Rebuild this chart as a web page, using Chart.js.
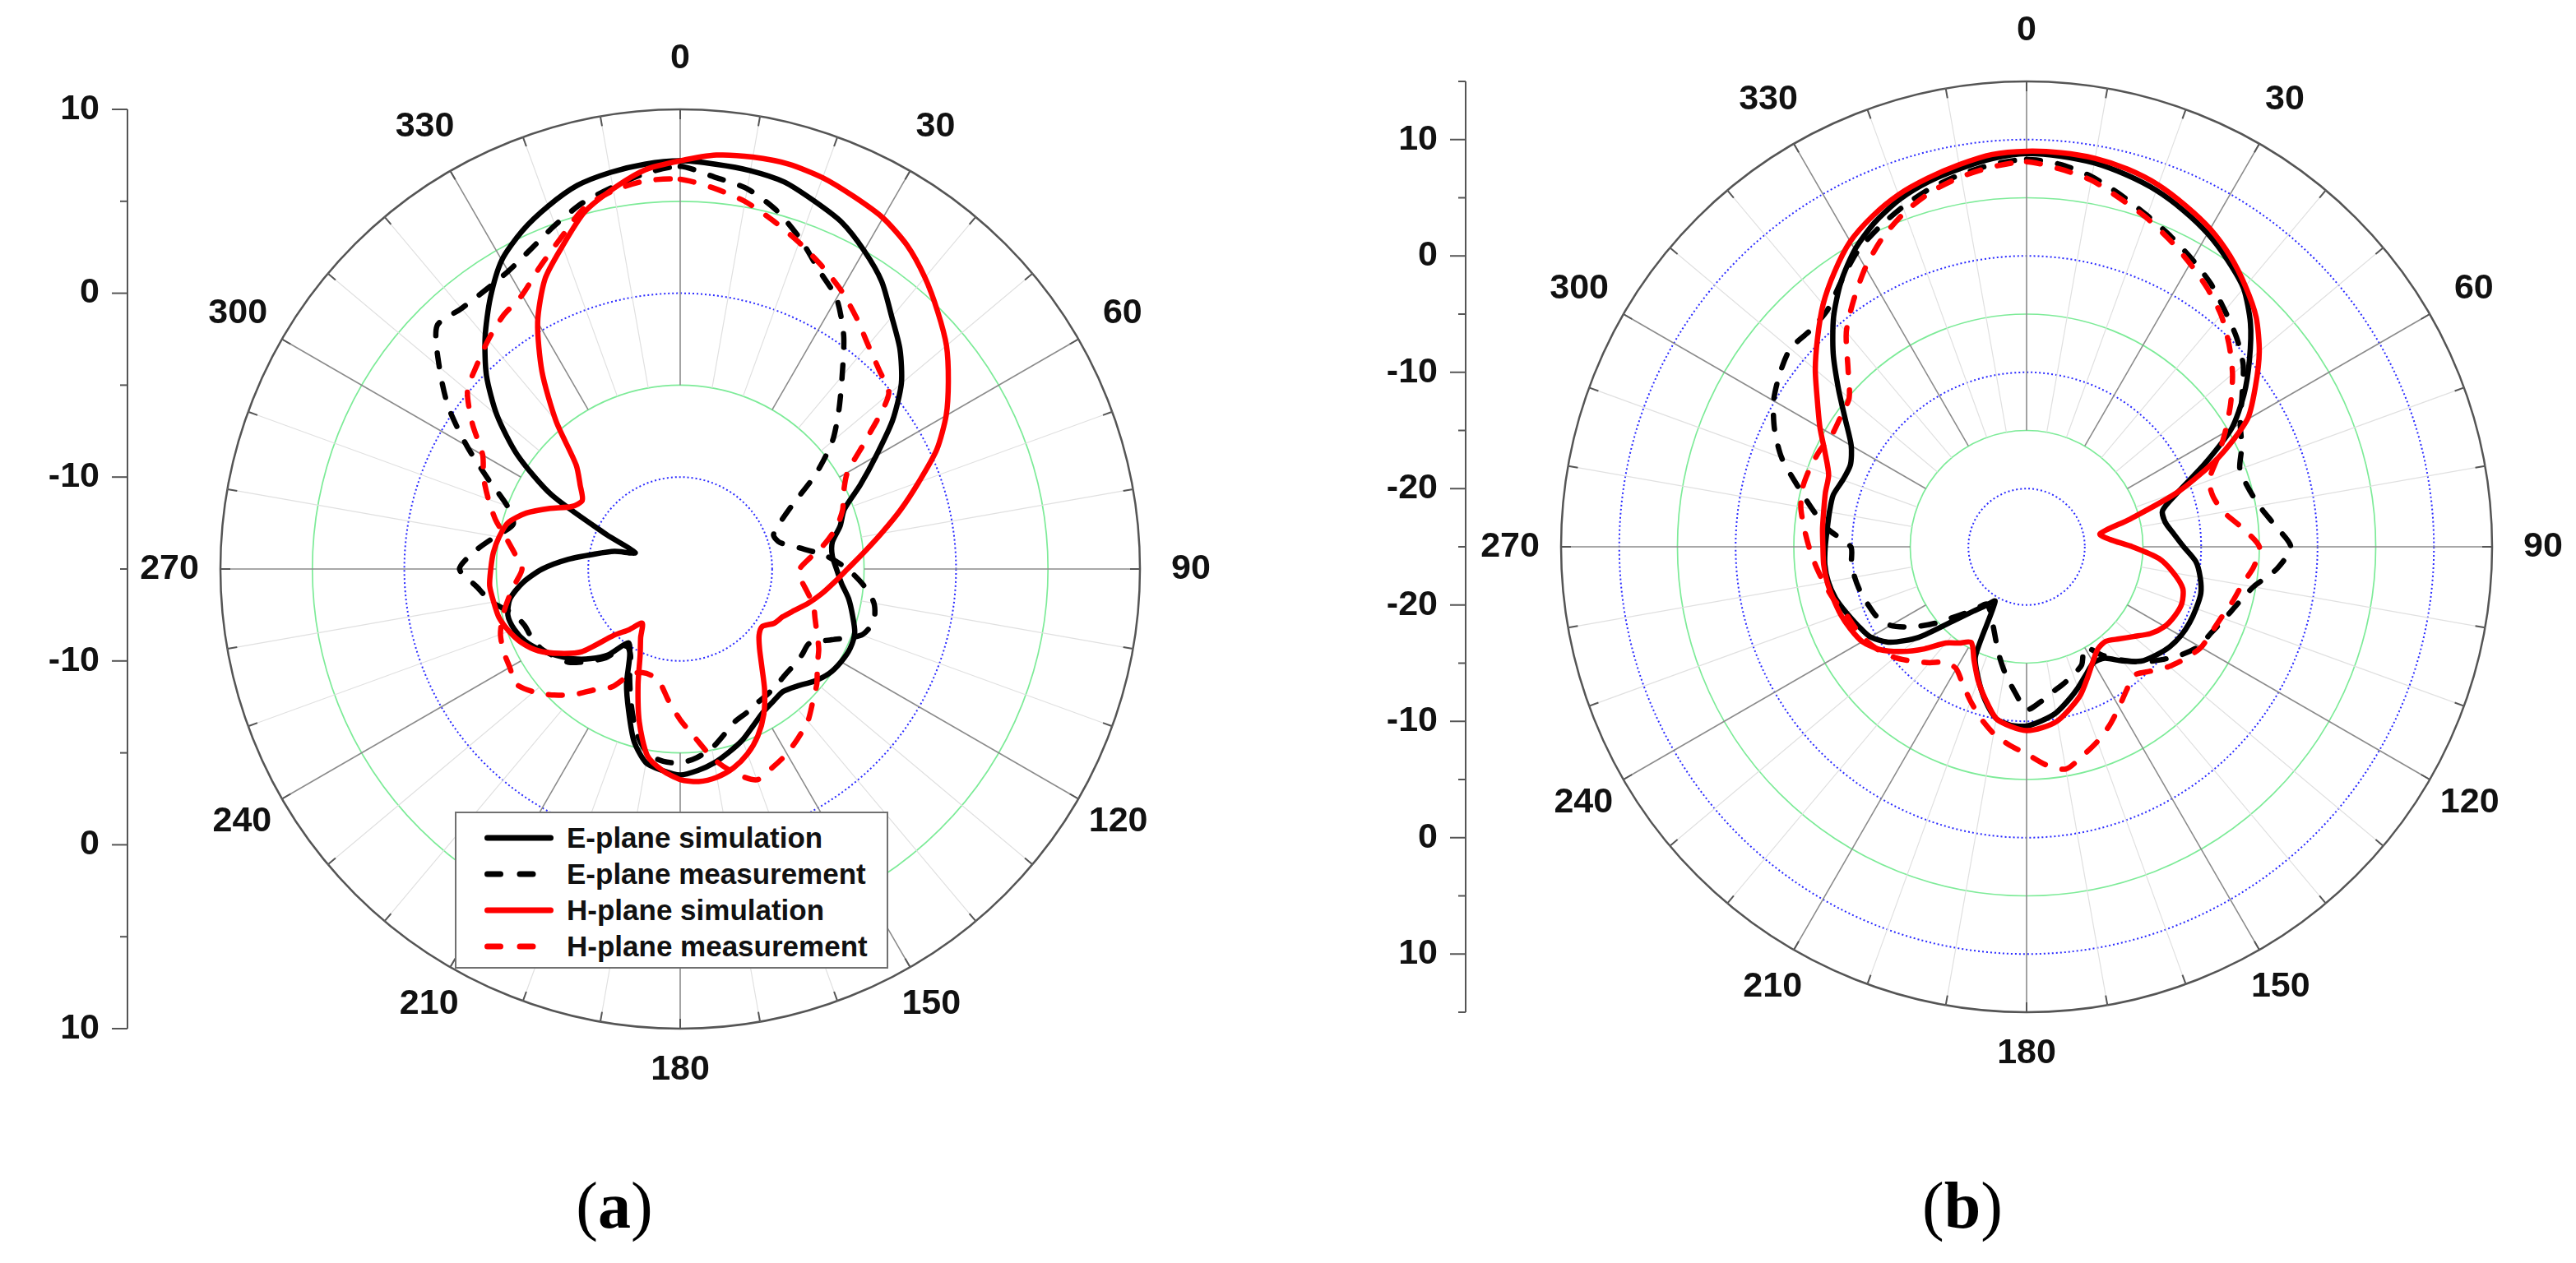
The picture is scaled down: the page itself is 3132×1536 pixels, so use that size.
<!DOCTYPE html>
<html>
<head>
<meta charset="utf-8">
<title>E-plane / H-plane radiation patterns</title>
<script src="https://cdn.jsdelivr.net/npm/chart.js@4.4.1/dist/chart.umd.min.js"></script>
<style>
  html, body { margin: 0; padding: 0; background: #fff; }
  #page { position: relative; width: 3132px; height: 1536px; overflow: hidden; background: #fff; }
  canvas { position: absolute; top: 0; }
  #chartA { left: 0; }
  #chartB { left: 1566px; }
  .legend { position: absolute; left: 553px; top: 987px; width: 523px; height: 187px;
            border: 2px solid #707070; background: #fff; color: #111;
            font: bold 35px "Liberation Sans", Arial, sans-serif; }
  .legend .row { position: absolute; left: 0; width: 100%; height: 44px; }
  .legend svg { position: absolute; left: 34px; top: 15px; }
  .legend span { position: absolute; left: 134px; top: 0; line-height: 44px; white-space: nowrap; }
  .caption { position: absolute; top: 1426px; width: 200px; text-align: center;
             font: 80px/80px "Liberation Serif", "Times New Roman", serif; color: #000; }
</style>
</head>
<body>
<div id="page">
  <canvas id="chartA" width="1566" height="1536"></canvas>
  <canvas id="chartB" width="1566" height="1536"></canvas>
  <div class="legend" id="legendA"></div>
  <div class="caption" style="left:647px">(<b>a</b>)</div>
  <div class="caption" style="left:2286px">(<b>b</b>)</div>
</div>
<script>
// angle categories, degrees (5 degree steps, clockwise from top)
const angles = [
  0, 5, 10, 15, 20, 25, 30, 35, 40, 45, 50, 55, 60, 65, 70, 75, 80, 85,
  90, 95, 100, 105, 110, 115, 120, 125, 130, 135, 140, 145, 150, 155, 160, 165, 170, 175,
  180, 185, 190, 195, 200, 205, 210, 215, 220, 225, 230, 235, 240, 245, 250, 255, 260, 265,
  270, 275, 280, 285, 290, 295, 300, 305, 310, 315, 320, 325, 330, 335, 340, 345, 350, 355
];
const angleTicks = [0, 30, 60, 90, 120, 150, 180, 210, 240, 270, 300, 330];

const seriesNames = ['E-plane simulation', 'E-plane measurement', 'H-plane simulation', 'H-plane measurement'];
const seriesColors = ['#000000', '#000000', '#ff0000', '#ff0000'];
const seriesDashed = [false, true, false, true];

// (a) gain in dB
const aEsim = [
  7.2, 7.1, 7.0, 6.8, 6.3, 5.8, 5.0, 4.1, 2.9, 1.9,
  0.7, -0.9, -2.7, -4.2, -5.5, -6.0, -6.6, -6.7, -6.5, -6.2,
  -5.7, -5.3, -4.9, -4.8, -4.9, -5.1, -5.5, -6.0, -6.3, -6.2,
  -6.0, -5.6, -5.1, -4.7, -4.3, -4.0, -3.8, -4.0, -4.3, -5.3,
  -6.8, -8.1, -9.5, -10.1, -8.9, -8.1, -7.4, -6.8, -6.2, -5.7,
  -5.4, -5.3, -5.6, -6.4, -7.5, -8.9, -10.3, -11.3, -12.4, -10.6,
  -6.9, -4.2, -2.0, -0.1, 1.5, 3.0, 4.4, 5.3, 6.0, 6.6,
  6.9, 7.1
];
const aEmeas = [
  6.9, 6.4, 6.0, 5.2, 4.1, 2.9, 2.0, 0.5, -1.3, -2.8,
  -4.2, -6.0, -7.9, -9.0, -9.6, -9.4, -8.4, -7.0, -5.9, -5.0,
  -4.3, -4.1, -4.5, -5.9, -6.9, -6.9, -6.9, -6.9, -6.8, -6.7,
  -6.6, -6.4, -6.2, -5.7, -5.1, -4.7, -4.45, -4.5, -4.8, -5.8,
  -7.2, -8.5, -9.6, -9.9, -8.7, -7.9, -7.1, -6.7, -6.3, -6.1,
  -6.0, -5.6, -4.6, -3.9, -3.0, -3.8, -4.8, -5.6, -5.0, -3.5,
  -1.6, 0.4, 2.1, 3.7, 3.5, 3.5, 3.7, 4.2, 4.9, 5.6,
  6.1, 6.6
];
const aHsim = [
  7.2, 7.6, 7.75, 7.8, 7.65, 7.35, 7.05, 6.5, 5.7, 4.8,
  3.9, 2.8, 1.7, 0.4, -1.2, -2.6, -3.9, -5.0, -5.9, -6.6,
  -7.2, -7.8, -8.4, -8.85, -9.1, -9.55, -9.4, -8.9, -8.1, -7.0,
  -5.9, -5.0, -4.3, -3.8, -3.5, -3.4, -3.55, -4.0, -4.7, -6.4,
  -8.3, -9.85, -10.7, -11.4, -10.7, -9.9, -8.0, -7.0, -6.1, -5.5,
  -5.1, -4.8, -4.7, -4.6, -4.7, -4.8, -5.0, -5.3, -6.1, -7.2,
  -8.2, -8.5, -7.9, -7.0, -4.5, -1.9, 0.5, 2.4, 3.7, 5.1,
  6.0, 6.8
];
const aHmeas = [
  6.2, 5.8, 5.3, 4.6, 3.9, 3.2, 2.5, 1.7, 0.9, 0.3,
  -0.2, -2.6, -4.5, -5.2, -5.6, -6.2, -7.0, -7.9, -8.5, -8.4,
  -8.0, -7.5, -7.2, -6.8, -6.3, -5.9, -5.3, -4.8, -4.2, -3.8,
  -3.4, -3.1, -2.8, -3.5, -4.5, -5.8, -6.8, -7.8, -8.7, -9.0,
  -9.0, -8.7, -7.6, -7.0, -6.1, -5.3, -4.6, -4.1, -4.3, -4.4,
  -4.6, -5.0, -5.5, -6.0, -6.4, -6.0, -5.4, -4.6, -3.9, -3.2,
  -2.6, -1.2, 0.1, 0.65, 1.25, 1.8, 2.2, 3.1, 4.1, 5.3,
  5.9, 6.2
];

// (b) gain in dB
const bEsim = [
  8.8, 8.7, 8.5, 8.1, 7.6, 6.9, 6.1, 5.1, 4.0, 2.2,
  0.0, -2.2, -4.65, -8.1, -11.1, -12.9, -12.9, -12.3, -11.5, -10.4,
  -9.85, -9.5, -9.5, -9.55, -9.7, -10.0, -10.5, -11.1, -12.2, -13.3,
  -13.5, -12.9, -12.1, -11.3, -10.5, -10.0, -9.6, -9.6, -10.0, -11.3,
  -12.9, -14.6, -19.6, -18.8, -17.7, -15.9, -12.9, -10.7, -9.5, -9.0,
  -8.5, -8.0, -7.7, -7.6, -7.7, -7.8, -7.8, -7.8, -8.2, -8.3,
  -7.6, -6.0, -3.9, -1.5, 0.8, 2.8, 4.5, 5.8, 6.8, 7.5,
  8.0, 8.5
];
const bEmeas = [
  8.3, 8.0, 7.3, 6.3, 5.3, 4.4, 3.5, 2.6, 1.5, 0.5,
  -0.7, -2.4, -3.8, -4.6, -5.5, -5.3, -4.7, -3.6, -2.3, -3.4,
  -5.2, -6.2, -6.9, -7.5, -7.9, -8.8, -9.9, -11.0, -12.3, -13.6,
  -15.0, -13.8, -13.3, -12.8, -12.3, -11.6, -11.0, -12.6, -14.1, -15.6,
  -17.0, -18.0, -18.7, -19.0, -17.9, -16.6, -14.8, -13.0, -11.5, -10.8,
  -10.5, -10.2, -10.0, -9.9, -9.9, -7.9, -6.3, -4.6, -2.6, -1.1,
  0.1, 0.9, 1.5, 1.3, 1.6, 2.8, 4.2, 5.2, 6.1, 6.9,
  7.5, 8.0
];
const bHsim = [
  9.0, 9.0, 8.9, 8.6, 8.1, 7.35, 6.55, 5.5, 4.25, 2.9,
  1.1, -1.0, -3.1, -6.8, -11.1, -15.8, -18.6, -17.8, -15.9, -13.6,
  -12.2, -11.1, -10.8, -10.95, -11.3, -12.0, -13.0, -13.8, -14.4, -14.3,
  -13.6, -12.6, -11.45, -10.6, -9.8, -9.4, -9.2, -9.5, -10.0, -11.4,
  -12.8, -14.3, -15.5, -14.9, -14.2, -12.6, -11.0, -9.6, -8.7, -8.3,
  -8.0, -7.8, -7.6, -7.5, -7.5, -7.4, -7.3, -7.1, -6.9, -5.9,
  -4.5, -3.05, -1.3, 0.4, 2.2, 3.8, 5.3, 6.35, 7.2, 7.8,
  8.35, 8.85
];
const bHmeas = [
  8.1, 7.6, 7.0, 6.0, 5.1, 4.1, 3.1, 2.1, 1.0, -0.4,
  -1.9, -3.6, -5.3, -6.9, -8.3, -8.4, -7.8, -6.4, -5.0, -5.4,
  -6.2, -6.7, -7.2, -7.5, -7.7, -8.3, -9.0, -9.9, -10.6, -10.0,
  -9.1, -8.1, -7.2, -6.4, -5.6, -6.2, -7.2, -7.9, -8.7, -9.75,
  -10.9, -12.0, -12.9, -12.9, -12.0, -11.1, -10.2, -9.5, -9.0, -8.7,
  -8.4, -7.8, -7.3, -6.8, -6.3, -5.8, -5.3, -5.1, -5.2, -5.4,
  -5.7, -5.5, -5.1, -3.3, -0.9, 0.9, 2.7, 4.3, 5.6, 6.6,
  7.3, 7.8
];

function makeDatasets(values) {
  return values.map((v, i) => ({
    label: seriesNames[i],
    data: v,
    borderColor: seriesColors[i],
    borderWidth: 6.5,
    borderDash: seriesDashed[i] ? [17, 21] : [],
    borderCapStyle: seriesDashed[i] ? 'round' : 'butt',
    borderJoinStyle: 'round',
    fill: false,
    pointRadius: 0,
    pointHoverRadius: 0,
    tension: 0.25,
    order: 4 - i
  }));
}

// put the polar centre in the middle of the chart area, radius = half its size
function centerScale(scale) {
  const a = scale.chart.chartArea;
  scale.xCenter = (a.left + a.right) / 2;
  scale.yCenter = (a.top + a.bottom) / 2;
  scale.drawingArea = Math.min(a.right - a.left, a.bottom - a.top) / 2;
}

function radialScale(min, max, lineStart) {
  return {
    min: min,
    max: max,
    ticks: { display: false, stepSize: 5 },
    pointLabels: { display: false },
    grid: {
      circular: true,
      color: (c) => {
        if (!c.tick) return '#888';
        const v = c.tick.value;
        if (v === c.scale.min) return 'rgba(0,0,0,0)';
        if (v === c.scale.max) return '#555';
        return v % 10 === 0 ? '#2b2bff' : '#7deb98';
      },
      lineWidth: (c) => {
        if (!c.tick) return 1;
        if (c.tick.value === c.scale.max) return 2.5;
        return c.tick.value % 10 === 0 ? 2 : 1.7;
      }
    },
    border: {
      dash: (c) => (c.tick && c.tick.value % 10 === 0 && c.tick.value !== c.scale.max ? [2, 3] : [])
    },
    angleLines: {
      color: (c) => (c.index % 6 === 0 ? '#8c8c8c' : '#e0e0e0'),
      lineWidth: (c) => (c.index % 2 !== 0 ? 0 : (c.index % 6 === 0 ? 1.6 : 1.2)),
      borderDash: (c) => [0, c.scale.getDistanceFromCenterForValue(lineStart), 4000]
    },
    afterFit: centerScale
  };
}

// angle labels, rim ticks and the dB axis on the left
const polarFrame = {
  id: 'polarFrame',
  beforeDatasetsDraw(chart) {
    const s = chart.scales.r;
    const ctx = chart.ctx;
    ctx.save();
    ctx.strokeStyle = '#555';
    ctx.lineWidth = 2;
    chart.data.labels.forEach((deg, i) => {
      if (deg % 10 !== 0) return;
      const p0 = s.getPointPosition(i, s.drawingArea - 12);
      const p1 = s.getPointPosition(i, s.drawingArea);
      ctx.beginPath();
      ctx.moveTo(p0.x, p0.y);
      ctx.lineTo(p1.x, p1.y);
      ctx.stroke();
    });
    ctx.restore();
  },
  afterDraw(chart, args, opts) {
    const s = chart.scales.r;
    const ctx = chart.ctx;
    ctx.save();
    ctx.fillStyle = '#111';
    ctx.font = 'bold 43px "Liberation Sans", Arial, sans-serif';
    ctx.textAlign = 'center';
    ctx.textBaseline = 'middle';
    chart.data.labels.forEach((deg, i) => {
      if (!angleTicks.includes(deg)) return;
      const off = 62 - 12 * Math.max(0, -Math.cos(deg * Math.PI / 180));
      const p = s.getPointPosition(i, s.drawingArea + off);
      ctx.fillText(String(deg), p.x, p.y);
    });

    const x0 = s.xCenter - s.drawingArea - opts.gap;
    ctx.strokeStyle = '#555';
    ctx.lineWidth = 2;
    ctx.beginPath();
    ctx.moveTo(x0, s.yCenter - s.drawingArea);
    ctx.lineTo(x0, s.yCenter + s.drawingArea);
    ctx.stroke();
    ctx.textAlign = 'right';
    s.ticks.forEach((t) => {
      const d = s.getDistanceFromCenterForValue(t.value);
      const major = t.value % 10 === 0;
      const len = major ? 19 : 9;
      [-1, 1].forEach((sign) => {
        if (d === 0 && sign === 1) return;
        const y = s.yCenter + sign * d;
        ctx.beginPath();
        ctx.moveTo(x0 - len, y);
        ctx.lineTo(x0, y);
        ctx.stroke();
        if (major) ctx.fillText(String(t.value), x0 - 34, y);
      });
    });
    ctx.restore();
  }
};

function makeChart(id, values, min, max, lineStart, padding, gap) {
  return new Chart(document.getElementById(id), {
    type: 'radar',
    data: { labels: angles, datasets: makeDatasets(values) },
    options: {
      responsive: false,
      devicePixelRatio: 1,
      animation: false,
      events: [],
      layout: { padding: padding },
      scales: { r: radialScale(min, max, lineStart) },
      plugins: {
        legend: { display: false },
        tooltip: { enabled: false },
        polarFrame: { gap: gap }
      }
    },
    plugins: [polarFrame]
  });
}

makeChart('chartA', [aEsim, aEmeas, aHsim, aHmeas], -15, 10, -5,
  { left: 268, right: 180, top: 133, bottom: 285 }, 113);
makeChart('chartB', [bEsim, bEmeas, bHsim, bHmeas], -25, 15, -15,
  { left: 332, right: 102, top: 99, bottom: 305 }, 116);

// legend of panel (a)
const legendBox = document.getElementById('legendA');
seriesNames.forEach((name, i) => {
  const row = document.createElement('div');
  row.className = 'row';
  row.style.top = (8 + i * 44) + 'px';
  const x2 = seriesDashed[i] ? 59 : 80.5;
  const dash = seriesDashed[i] ? ' stroke-dasharray="16 23.5"' : '';
  row.innerHTML = '<svg width="84" height="14"><line x1="3.5" y1="7" x2="' + x2 + '" y2="7" stroke="' +
    seriesColors[i] + '" stroke-width="7" stroke-linecap="round"' + dash + '/></svg><span>' + name + '</span>';
  legendBox.appendChild(row);
});
</script>
</body>
</html>
